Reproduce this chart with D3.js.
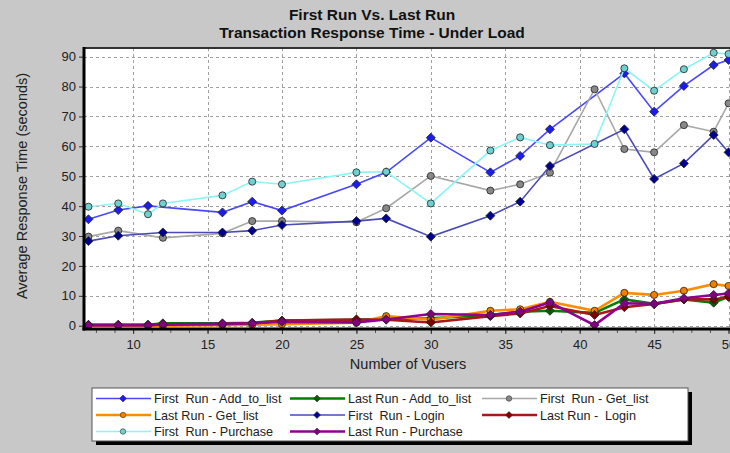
<!DOCTYPE html>
<html>
<head>
<meta charset="utf-8">
<script src="https://cdn.jsdelivr.net/npm/d3@7"></script>
<style>
	body { margin: 0; background: #c8c8c8; }
	svg { display: block; }
	text { font-family: "Liberation Sans", Arial, sans-serif; }
</style>
</head>
<body>
<svg id="chart" width="730" height="453"></svg>
<script>
// Number of Vusers for each series (not every series has every step)
var firstAddX = [7, 9, 11, 16, 18, 20, 25, 27, 30, 34, 36, 38, 43, 45, 47, 49, 50]
var firstAddY = [35.6, 38.7, 40.1, 37.9, 41.5, 38.5, 47.3, 51.3, 62.9, 51.3, 56.8, 65.7, 84.4, 71.6, 80.2, 87.2, 88.9]

var firstGetX = [7, 9, 12, 16, 18, 20, 25, 27, 30, 34, 36, 38, 41, 43, 45, 47, 49, 50]
var firstGetY = [29.8, 31.8, 29.4, 30.9, 35.0, 35.0, 34.6, 39.3, 50.1, 45.2, 47.3, 51.2, 79.1, 59.1, 58.0, 67.1, 64.9, 74.4]

var firstLoginX = [7, 9, 12, 16, 18, 20, 25, 27, 30, 34, 36, 38, 43, 45, 47, 49, 50]
var firstLoginY = [28.3, 30.1, 31.2, 31.2, 31.8, 33.7, 35.0, 35.9, 29.8, 36.8, 41.5, 53.4, 65.7, 49.1, 54.3, 63.8, 58.0]

var firstPurchaseX = [7, 9, 11, 12, 16, 18, 20, 25, 27, 30, 34, 36, 38, 41, 43, 45, 47, 49, 50]
var firstPurchaseY = [39.8, 40.9, 37.3, 40.9, 43.6, 48.2, 47.3, 51.3, 51.5, 40.9, 58.6, 63.0, 60.4, 60.8, 86.1, 78.6, 85.8, 91.3, 90.9]

var lastX = [7, 9, 11, 12, 16, 18, 20, 25, 27, 30, 34, 36, 38, 41, 43, 45, 47, 49, 50]
var lastAddY = [0.3, 0.3, 0.3, 0.8, 0.8, 1.0, 1.7, 2.0, 2.2, 2.5, 3.6, 4.7, 5.0, 4.3, 8.8, 7.3, 8.8, 7.7, 9.7]
var lastGetY = [0.0, 0.0, 0.0, 0.0, 0.2, 0.3, 0.5, 1.0, 3.2, 2.0, 5.0, 5.5, 8.0, 5.0, 11.0, 10.3, 11.7, 13.9, 13.3]
var lastLoginY = [0.2, 0.2, 0.2, 0.3, 0.5, 0.8, 1.7, 2.1, 2.0, 1.1, 3.2, 4.1, 6.6, 3.6, 6.2, 7.3, 8.8, 8.8, 9.7]
var lastPurchaseY = [0.2, 0.2, 0.2, 0.5, 0.6, 0.8, 1.3, 1.1, 2.1, 3.9, 3.6, 4.7, 7.8, 0.2, 7.5, 7.3, 9.2, 10.3, 10.8]

var xTicks = [10, 15, 20, 25, 30, 35, 40, 45, 50]
var yTicks = [0, 10, 20, 30, 40, 50, 60, 70, 80, 90]

var titleLines = ["First Run Vs. Last Run", "Transaction Response Time - Under Load"]

// series in legend order
var series = [
	{ name: "First  Run - Add_to_list", x: firstAddX, y: firstAddY, color: "#4848ff", fill: "#1c1cf0", w: 1.6, shape: "diamond" },
	{ name: "Last Run - Add_to_list", x: lastX, y: lastAddY, color: "#008000", fill: "#006000", w: 2.6, shape: "diamond" },
	{ name: "First  Run - Get_list", x: firstGetX, y: firstGetY, color: "#a8a8a8", fill: "#888888", w: 1.6, shape: "circle" },
	{ name: "Last Run - Get_list", x: lastX, y: lastGetY, color: "#ff8c00", fill: "#f08000", w: 2.6, shape: "circle" },
	{ name: "First  Run - Login", x: firstLoginX, y: firstLoginY, color: "#4a4ab8", fill: "#000090", w: 1.6, shape: "diamond" },
	{ name: "Last Run -  Login", x: lastX, y: lastLoginY, color: "#a81818", fill: "#800000", w: 2.6, shape: "diamond" },
	{ name: "First  Run - Purchase", x: firstPurchaseX, y: firstPurchaseY, color: "#8cf4f4", fill: "#70d0d0", w: 1.6, shape: "circle" },
	{ name: "Last Run - Purchase", x: lastX, y: lastPurchaseY, color: "#900090", fill: "#800080", w: 2.6, shape: "diamond" }
]

var svg = d3.select("#chart")

// plot edges (the right one runs past the window, like the original)
var plotLeft = 84, plotTop = 48, plotBottom = 329, plotRight = 736

var x = d3.scaleLinear().domain([6.7, 50.5]).range([plotLeft, plotRight])
var y = d3.scaleLinear().domain([-1.1, 92.9]).range([plotBottom, plotTop])

// title
svg.selectAll(".title")
	.data(titleLines)
	.enter()
	.append("text")
	.attr("class", "title")
	.attr("x", 372)
	.attr("y", function (d, i) { return 20 + i * 18 })
	.attr("text-anchor", "middle")
	.style("font-family", "'Liberation Sans Narrow', 'Arial Narrow', sans-serif")
	.style("font-weight", "bold")
	.style("font-size", "15.5px")
	.attr("fill", "#111")
	.text(function (d) { return d })

// plot background
svg.append("rect")
	.attr("x", plotLeft).attr("y", plotTop)
	.attr("width", plotRight - plotLeft + 10).attr("height", plotBottom - plotTop)
	.attr("fill", "#fff")

svg.append("clipPath").attr("id", "plot-clip")
	.append("rect")
	.attr("x", plotLeft).attr("y", plotTop)
	.attr("width", plotRight - plotLeft + 10).attr("height", plotBottom - plotTop)

// grid
var grid = svg.append("g")
grid.selectAll(".hgrid")
	.data(yTicks)
	.enter()
	.append("line")
	.attr("x1", plotLeft).attr("x2", plotRight + 10)
	.attr("y1", function (d) { return Math.round(y(d)) + 0.5 })
	.attr("y2", function (d) { return Math.round(y(d)) + 0.5 })
	.attr("stroke", "#a0a0a0")
	.attr("stroke-dasharray", "3,3")
grid.selectAll(".vgrid")
	.data(xTicks)
	.enter()
	.append("line")
	.attr("y1", plotTop).attr("y2", plotBottom)
	.attr("x1", function (d) { return Math.round(x(d)) + 0.5 })
	.attr("x2", function (d) { return Math.round(x(d)) + 0.5 })
	.attr("stroke", "#a0a0a0")
	.attr("stroke-dasharray", "3,3")

// axes
var yAxis = d3.axisLeft(y).tickValues(yTicks).tickSize(4).tickPadding(3)
var gy = svg.append("g").attr("transform", "translate(" + (plotLeft - 1) + ",0)").call(yAxis)
gy.select(".domain").remove()
gy.selectAll("text").style("font-size", "13px").attr("fill", "#222")
gy.selectAll("line").attr("stroke", "#333")

var minorTicks = d3.range(7.5, 50.1, 1.25)
var xAxis = d3.axisBottom(x).tickValues(minorTicks).tickSize(3).tickFormat("")
var gxm = svg.append("g").attr("transform", "translate(0," + (plotBottom + 1) + ")").call(xAxis)
gxm.select(".domain").remove()
gxm.selectAll("line").attr("stroke", "#555")

var xAxisMajor = d3.axisBottom(x).tickValues(xTicks).tickSize(4).tickPadding(6).tickFormat(d3.format("d"))
var gx = svg.append("g").attr("transform", "translate(0," + (plotBottom + 1) + ")").call(xAxisMajor)
gx.select(".domain").remove()
gx.selectAll("text").style("font-size", "13px").attr("fill", "#222")
gx.selectAll("line").attr("stroke", "#333")

// axis titles
svg.append("text")
	.attr("transform", "translate(27,186) rotate(-90)")
	.attr("text-anchor", "middle")
	.style("font-size", "14.5px")
	.attr("fill", "#222")
	.text("Average Response Time (seconds)")

svg.append("text")
	.attr("x", 408).attr("y", 369)
	.attr("text-anchor", "middle")
	.style("font-size", "14.5px")
	.attr("fill", "#222")
	.text("Number of Vusers")

// lines
var plot = svg.append("g").attr("clip-path", "url(#plot-clip)")

var line = d3.line()
	.x(function (d) { return x(d[0]) })
	.y(function (d) { return y(d[1]) })

function markerPath(shape, r) {
	if (shape == "diamond") {
		return "M0," + (-r) + "L" + r + ",0L0," + r + "L" + (-r) + ",0Z"
	}
	return d3.symbol().type(d3.symbolCircle).size(Math.PI * r * r * 0.62)()
}

series.forEach(function (s) {
	var pts = s.x.map(function (v, i) { return [v, s.y[i]] })
	plot.append("path")
		.datum(pts)
		.attr("d", line)
		.attr("fill", "none")
		.attr("stroke", s.color)
		.attr("stroke-width", s.w)
	plot.selectAll(null)
		.data(pts)
		.enter()
		.append("path")
		.attr("transform", function (d) { return "translate(" + x(d[0]) + "," + y(d[1]) + ")" })
		.attr("d", markerPath(s.shape, 4.5))
		.attr("fill", s.fill)
		.attr("stroke", "#222")
		.attr("stroke-width", 0.8)
})

// frame
svg.append("line").attr("x1", plotLeft).attr("x2", plotRight + 10).attr("y1", plotTop).attr("y2", plotTop)
	.attr("stroke", "#333").attr("stroke-width", 2)
svg.append("line").attr("x1", plotLeft).attr("x2", plotLeft).attr("y1", plotTop - 1).attr("y2", plotBottom + 1.5)
	.attr("stroke", "#000").attr("stroke-width", 3)
svg.append("line").attr("x1", plotLeft - 1.5).attr("x2", plotRight + 10).attr("y1", plotBottom).attr("y2", plotBottom)
	.attr("stroke", "#000").attr("stroke-width", 3)

// legend
var lgX = 92, lgY = 388, lgW = 596, lgH = 53
svg.append("rect")
	.attr("x", lgX + 4).attr("y", lgY + 4)
	.attr("width", lgW).attr("height", lgH)
	.attr("fill", "#000")
svg.append("rect")
	.attr("x", lgX).attr("y", lgY)
	.attr("width", lgW).attr("height", lgH)
	.attr("fill", "#fff")
	.attr("stroke", "#555")

var colX = [96, 290, 482]
var rowY = [398.5, 415, 431.5]

var items = svg.selectAll(".legend-item")
	.data(series)
	.enter()
	.append("g")
	.attr("class", "legend-item")
	.attr("transform", function (d, i) { return "translate(" + colX[i % 3] + "," + rowY[Math.floor(i / 3)] + ")" })

items.append("line")
	.attr("x1", 0).attr("x2", 55)
	.attr("stroke", function (d) { return d.color })
	.attr("stroke-width", function (d) { return d.w })
items.append("path")
	.attr("transform", "translate(27,0)")
	.attr("d", function (d) { return markerPath(d.shape, 3.5) })
	.attr("fill", function (d) { return d.fill })
	.attr("stroke", "#333")
	.attr("stroke-width", 0.6)
items.append("text")
	.attr("x", 58)
	.attr("y", 4.5)
	.style("font-size", "12.6px")
	.style("white-space", "pre")
	.attr("fill", "#222")
	.text(function (d) { return d.name })
</script>
</body>
</html>
